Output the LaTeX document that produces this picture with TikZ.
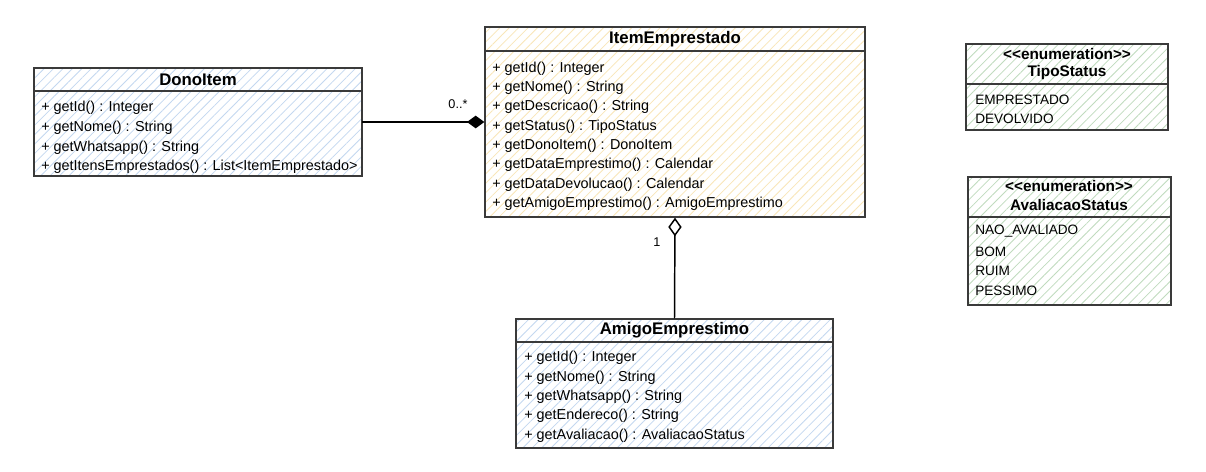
\documentclass[tikz,border=0pt]{standalone}
\usepackage{fontspec}
\setmainfont{Liberation Sans}
\usetikzlibrary{arrows.meta,patterns.meta,fit}
\definecolor{bluehatch}{HTML}{C3D8F0}
\definecolor{yellowhatch}{HTML}{F9E6B8}
\definecolor{greenhatch}{HTML}{C0DBBE}
\definecolor{boxline}{HTML}{3A3A3A}
\begin{document}
\begin{tikzpicture}[x=0.75pt,y=-0.75pt,
  classbox/.style={draw=boxline, line width=1pt, inner sep=0pt,
    preaction={fill=white},
    pattern={Lines[angle=45,distance=5pt,line width=0.6pt]}, pattern color=#1},
  sep/.style={draw=boxline, line width=1pt},
  ctitle/.style={font=\fontsize{12.6}{14}\selectfont\bfseries, inner sep=0pt},
  etitle/.style={font=\fontsize{11.5}{13}\selectfont\bfseries, inner sep=0pt},
  row/.style={anchor=west, inner sep=0pt, font=\fontsize{10.8}{12}\selectfont},
  erow/.style={anchor=west, inner sep=0pt, font=\fontsize{10.2}{12}\selectfont},
  mult/.style={inner sep=0pt, font=\fontsize{9.5}{11}\selectfont},
  conn/.style={draw=black, line width=1.1pt}]
\path[fill=white] (0,0) rectangle (1206,471);

% DonoItem
\node[classbox=bluehatch, fit={(34,68) (362,176)}] (dono) {};
\draw[sep] (dono.west |- 0,91) -- (dono.east |- 0,91);
\node[ctitle] (donoT) at (198,80) {DonoItem};
\node[row] (dono1) at (41,107.5) {+ getId() : Integer};
\node[row] (dono2) at (41,128) {+ getNome() : String};
\node[row] (dono3) at (41,147.5) {+ getWhatsapp() : String};
\node[row] (dono4) at (41,166.5) {+ getItensEmprestados() : List<ItemEmprestado>};

% ItemEmprestado
\node[classbox=yellowhatch, fit={(485,27) (865,217)}] (item) {};
\draw[sep] (item.west |- 0,51) -- (item.east |- 0,51);
\node[ctitle] (itemT) at (675,39) {ItemEmprestado};
\node[row] (item1) at (492,68.5) {+ getId() : Integer};
\node[row] (item2) at (492,87.5) {+ getNome() : String};
\node[row] (item3) at (492,106.5) {+ getDescricao() : String};
\node[row] (item4) at (492,126.5) {+ getStatus() : TipoStatus};
\node[row] (item5) at (492,145.5) {+ getDonoItem() : DonoItem};
\node[row] (item6) at (492,164.5) {+ getDataEmprestimo() : Calendar};
\node[row] (item7) at (492,184.5) {+ getDataDevolucao() : Calendar};
\node[row] (item8) at (492,203.5) {+ getAmigoEmprestimo() : AmigoEmprestimo};

% AmigoEmprestimo
\node[classbox=bluehatch, fit={(516,319) (833,448)}] (amigo) {};
\draw[sep] (amigo.west |- 0,342) -- (amigo.east |- 0,342);
\node[ctitle] (amigoT) at (674.5,330) {AmigoEmprestimo};
\node[row] (amigo1) at (524,357.5) {+ getId() : Integer};
\node[row] (amigo2) at (524,377.5) {+ getNome() : String};
\node[row] (amigo3) at (524,396.5) {+ getWhatsapp() : String};
\node[row] (amigo4) at (524,415.5) {+ getEndereco() : String};
\node[row] (amigo5) at (524,435.5) {+ getAvaliacao() : AvaliacaoStatus};

% TipoStatus
\node[classbox=greenhatch, fit={(966,44) (1168,130)}] (tipo) {};
\draw[sep] (tipo.west |- 0,84) -- (tipo.east |- 0,84);
\node[etitle] (tipoS) at (1067,54) {<\kern0pt<enumeration>\kern0pt>};
\node[etitle] (tipoT) at (1067,73) {TipoStatus};
\node[erow] (tipo1) at (975,99.5) {EMPRESTADO};
\node[erow] (tipo2) at (975,118.5) {DEVOLVIDO};

% AvaliacaoStatus
\node[classbox=greenhatch, fit={(968,177) (1171,305)}] (aval) {};
\draw[sep] (aval.west |- 0,217) -- (aval.east |- 0,217);
\node[etitle] (avalS) at (1069,186) {<\kern0pt<enumeration>\kern0pt>};
\node[etitle] (avalT) at (1069,205) {AvaliacaoStatus};
\node[erow] (aval1) at (975,231.5) {NAO\_AVALIADO};
\node[erow] (aval2) at (975,251.5) {BOM};
\node[erow] (aval3) at (975,270.5) {RUIM};
\node[erow] (aval4) at (975,290.5) {PESSIMO};

% connectors
\draw[conn, -{Diamond[length=13pt,width=9.5pt,fill=black]}] (dono.east) -- (item.west);
\node[mult] (m1) at (458,104) {0..*};
\draw[conn, {Diamond[length=14pt,width=10pt,fill=white]}-] (item.south) -- (amigo.north);
\node[mult] (m2) at (657,242) {1};
\end{tikzpicture}
\end{document}
